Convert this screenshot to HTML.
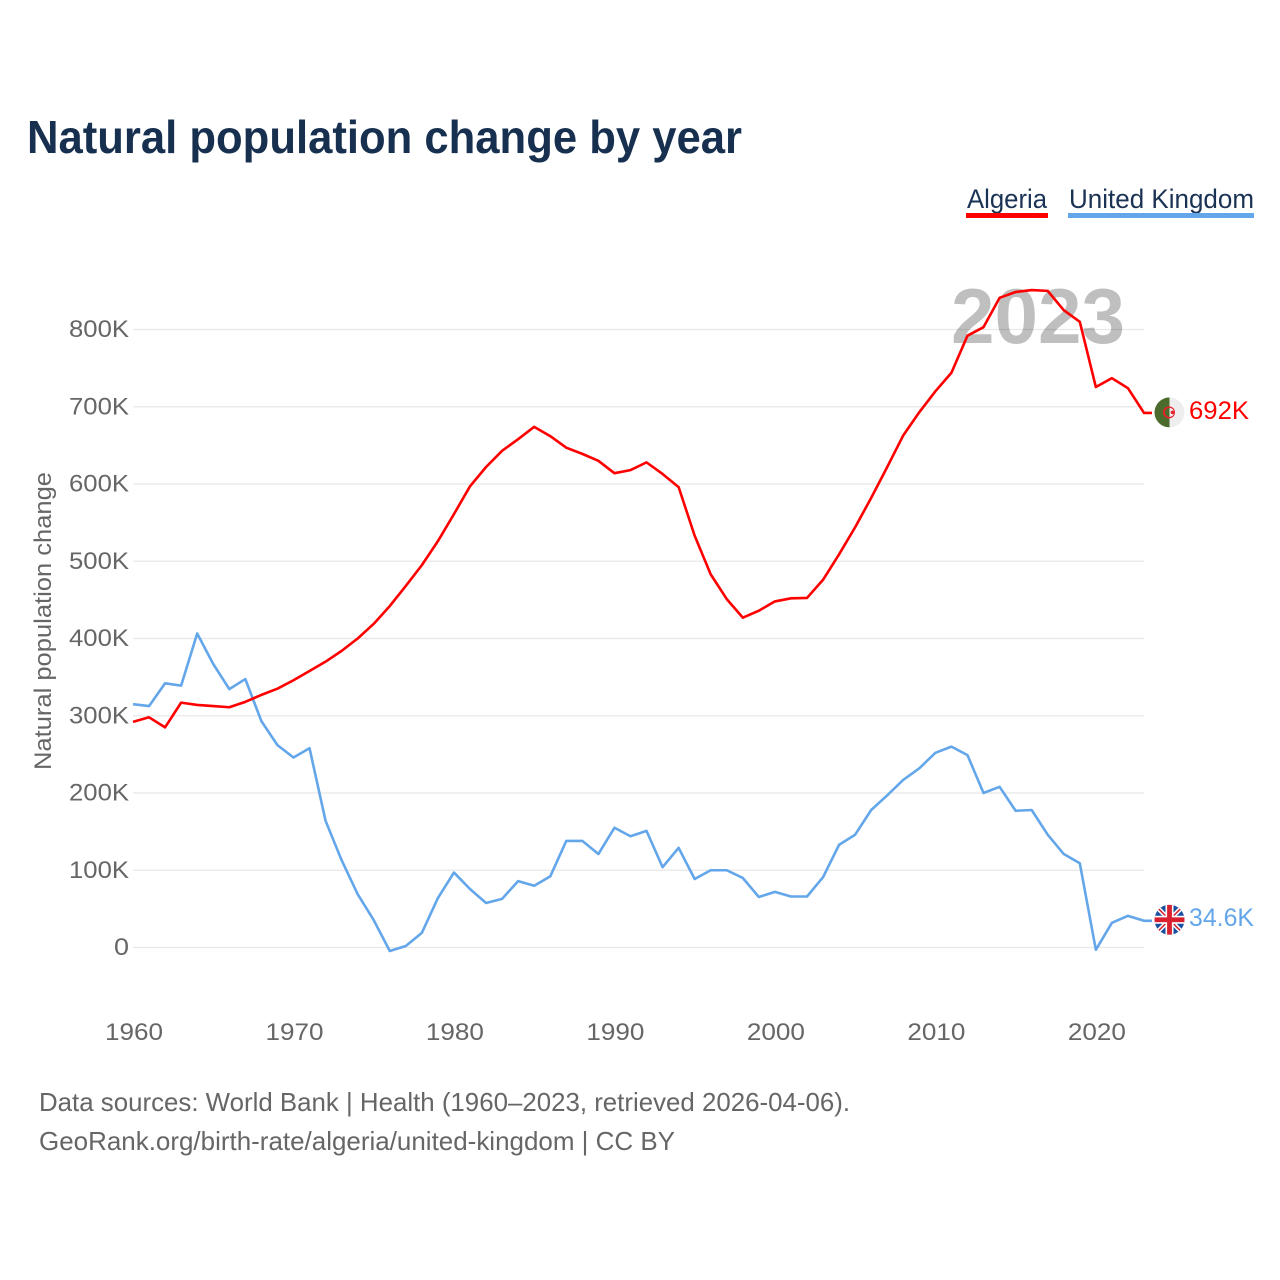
<!DOCTYPE html>
<html lang="en">
<head>
<meta charset="utf-8">
<title>Natural population change by year</title>
<style>
html,body{margin:0;padding:0;background:#fff;width:1280px;height:1280px;overflow:hidden}
svg{display:block}
text{font-family:"Liberation Sans",sans-serif}
</style>
</head>
<body>
<svg id="chart" xmlns="http://www.w3.org/2000/svg" width="1280" height="1280" viewBox="0 0 1280 1280">
  <rect width="1280" height="1280" fill="#fff"/>
  <text x="27" y="153" font-size="46" font-weight="700" fill="#17304f" textLength="715" lengthAdjust="spacingAndGlyphs">Natural population change by year</text>

  <g>
    <text x="967" y="208" font-size="27" fill="#1a3354" textLength="80" lengthAdjust="spacingAndGlyphs">Algeria</text>
    <rect x="966" y="213" width="82" height="5" fill="#ff0000"/>
  </g>
  <g>
    <text x="1069" y="208" font-size="27" fill="#1a3354" textLength="185" lengthAdjust="spacingAndGlyphs">United Kingdom</text>
    <rect x="1068" y="213" width="186" height="5" fill="#63a6ea"/>
  </g>

  <text transform="translate(51 770) rotate(-90)" font-size="24" fill="#666" textLength="298" lengthAdjust="spacingAndGlyphs">Natural population change</text>

  <g id="grid"></g>
  <g id="ylabels"></g>
  <g id="xlabels"></g>

  <text x="951" y="343" font-size="78" font-weight="700" fill="#000" fill-opacity="0.25" textLength="174" lengthAdjust="spacingAndGlyphs">2023</text>

  <g id="series"></g>

  <g id="flag-algeria">
    <clipPath id="clip-dz"><circle cx="0" cy="0" r="15"/></clipPath>
    <g clip-path="url(#clip-dz)">
      <rect x="-15" y="-15" width="15" height="30" fill="#4b6b2d"/>
      <rect x="0" y="-15" width="15" height="30" fill="#eeeeee"/>
      <circle cx="-0.5" cy="0" r="6" fill="#e8202a"/>
      <path d="M0 -4.6A4.6 4.6 0 0 0 0 4.6Z" fill="#4b6b2d"/>
      <path d="M0 -4.6A4.6 4.6 0 0 1 0 4.6Z" fill="#eeeeee"/>
      <circle cx="3" cy="0" r="1.8" fill="#e8202a"/>
    </g>
  </g>
  <g id="flag-uk">
    <clipPath id="clip-uk"><circle cx="0" cy="0" r="15"/></clipPath>
    <g clip-path="url(#clip-uk)">
      <rect x="-15" y="-15" width="30" height="30" fill="#1a4fa0"/>
      <path d="M-15 -15L15 15M15 -15L-15 15" stroke="#fff" stroke-width="4.5"/>
      <path d="M-15 -15L15 15M15 -15L-15 15" stroke="#d8202f" stroke-width="1.5"/>
      <rect x="-4" y="-15" width="8" height="30" fill="#fff"/>
      <rect x="-15" y="-4" width="30" height="8" fill="#fff"/>
      <rect x="-2.4" y="-15" width="4.8" height="30" fill="#d8202f"/>
      <rect x="-15" y="-2.4" width="30" height="4.8" fill="#d8202f"/>
    </g>
  </g>
  <text id="end-label-algeria" x="1189" font-size="25" fill="#ff0000" textLength="60" lengthAdjust="spacingAndGlyphs"></text>
  <text id="end-label-uk" x="1189" font-size="25" fill="#63a6ea" textLength="65" lengthAdjust="spacingAndGlyphs"></text>

  <text x="39" y="1111" font-size="26" fill="#666" textLength="811" lengthAdjust="spacingAndGlyphs">Data sources: World Bank | Health (1960–2023, retrieved 2026-04-06).</text>
  <text x="39" y="1150" font-size="26" fill="#666" textLength="636" lengthAdjust="spacingAndGlyphs">GeoRank.org/birth-rate/algeria/united-kingdom | CC BY</text>
</svg>

<script>
const startYear = 1960;
const algeria = [292,298,285,317,314,312.5,311,318,327,335,346,358,370,384,400,419,442,468,495,526,561,597,622,643,658,674,662,647,639,630,614,618,628,613,596,533,483,451,427,436,448,452,452.5,476,509,544,582,622,663,693,720,744,792,803,841,848.5,851,850,825,810,725.5,737,724,692];
const unitedKingdom = [315,312.5,342,339,406.5,367,334.5,347.5,293,262,246,258,164,113,69,35.5,-4.5,2,19,64,97,75.7,57.6,63,86,80,92,138,138,121,155,144,151,104,129,88.7,100,100,90,65.4,72,66,66,91,133,146,178,197,217,232,252,260,249,200,208,177,178,146,121,109,-3,32,41,34.6];
const yTickValues = [0,100,200,300,400,500,600,700,800];
const yTickLabels = ['0','100K','200K','300K','400K','500K','600K','700K','800K'];
const xTickValues = [1960,1970,1980,1990,2000,2010,2020];
const xTickLabels = ['1960','1970','1980','1990','2000','2010','2020'];
const endLabels = ['692K','34.6K'];

const NS = 'http://www.w3.org/2000/svg';
function xScale(year){ return 133 + (year - 1960) * (1144 - 133) / 63; }
function yScale(v){ return 947.5 - v * 0.7725; }
function mk(parentId, tag, attrs){
  const e = document.createElementNS(NS, tag);
  for (const k in attrs) e.setAttribute(k, attrs[k]);
  document.getElementById(parentId).appendChild(e);
  return e;
}

yTickValues.forEach(function(v, i){
  const y = yScale(v);
  const line = mk('grid', 'line', {x1:133, x2:1144, y1:y, y2:y, stroke:'#e8e8e8', 'stroke-width':1.3});
  
  
  const label = mk('ylabels', 'text', {x:129, y:y + 7.5, 'text-anchor':'end', 'font-size':24, fill:'#666', textLength:yTickLabels[i].length * 15, lengthAdjust:'spacingAndGlyphs'});
  label.textContent = yTickLabels[i];
  
  
});

xTickValues.forEach(function(year, i){
  const label = mk('xlabels', 'text', {x:xScale(year) + 1, y:1040, 'text-anchor':'middle', 'font-size':24, fill:'#666', textLength:58, lengthAdjust:'spacingAndGlyphs'});
  label.textContent = xTickLabels[i];
  
  
});

function linePoints(values){
  const pts = values.map(function(v, i){ return xScale(startYear + i).toFixed(2) + ',' + yScale(v).toFixed(2); });
  pts.push((xScale(startYear + values.length - 1) + 8).toFixed(2) + ',' + yScale(values[values.length - 1]).toFixed(2));
  return pts.join(' ');
}

const ukLine = mk('series', 'polyline', {points:linePoints(unitedKingdom), fill:'none', stroke:'#63a6ea', 'stroke-width':2.6, 'stroke-linejoin':'round'});


const dzLine = mk('series', 'polyline', {points:linePoints(algeria), fill:'none', stroke:'#ff0000', 'stroke-width':2.6, 'stroke-linejoin':'round'});



const dzLast = yScale(algeria[algeria.length - 1]);
const ukLast = yScale(unitedKingdom[unitedKingdom.length - 1]);
document.getElementById('flag-algeria').setAttribute('transform', 'translate(1169.5 ' + (dzLast - 0.5) + ')');
document.getElementById('flag-uk').setAttribute('transform', 'translate(1169.5 ' + (ukLast - 1) + ')');
const dzEnd = document.getElementById('end-label-algeria');
dzEnd.textContent = endLabels[0];
dzEnd.setAttribute('y', dzLast + 6);
const ukEnd = document.getElementById('end-label-uk');
ukEnd.textContent = endLabels[1];
ukEnd.setAttribute('y', ukLast + 5);
</script>
</body>
</html>
